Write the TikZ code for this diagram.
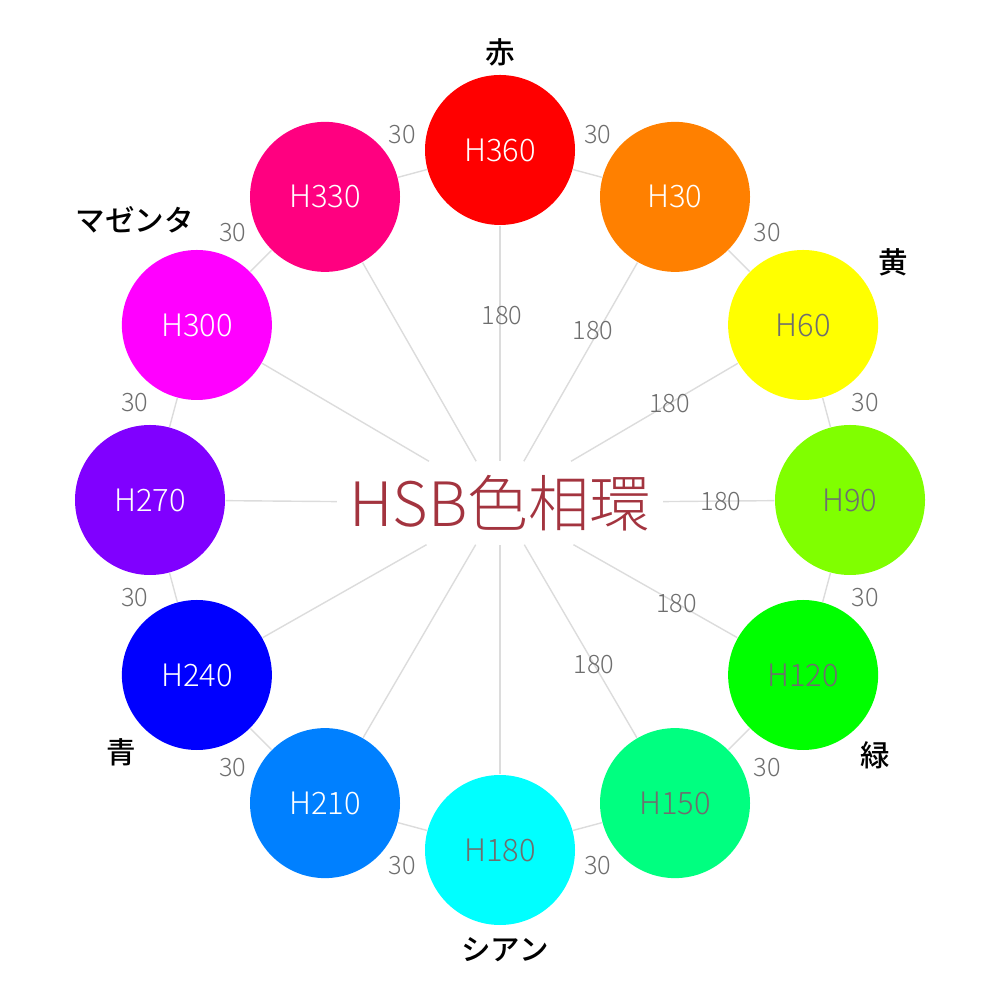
\documentclass[tikz,border=0pt]{standalone}
\usepackage{fontspec}
\IfFontExistsTF{Noto Sans CJK JP Light}
  {\newfontfamily\thinfont{Noto Sans CJK JP Light}}
  {\newfontfamily\thinfont{Noto Sans CJK JP}}
\IfFontExistsTF{Noto Sans CJK JP Medium}
  {\newfontfamily\namefont{Noto Sans CJK JP Medium}}
  {\newfontfamily\namefont{Noto Sans CJK JP Bold}}
\definecolor{hue360}{HTML}{FF0000}
\definecolor{hue30}{HTML}{FF8000}
\definecolor{hue60}{HTML}{FFFF00}
\definecolor{hue90}{HTML}{80FF00}
\definecolor{hue120}{HTML}{00FF00}
\definecolor{hue150}{HTML}{00FF80}
\definecolor{hue180}{HTML}{00FFFF}
\definecolor{hue210}{HTML}{0080FF}
\definecolor{hue240}{HTML}{0000FF}
\definecolor{hue270}{HTML}{8000FF}
\definecolor{hue300}{HTML}{FF00FF}
\definecolor{hue330}{HTML}{FF0080}
\definecolor{linegray}{HTML}{DCDCDC}
\definecolor{numgray}{HTML}{6E6E6E}
\definecolor{titlered}{HTML}{A3343F}
\begin{document}
\begin{tikzpicture}
\tikzset{huedot/.style={circle,minimum size=1.5cm,inner sep=0pt,font=\thinfont\fontsize{8.8}{10}\selectfont},
  chord/.style={draw=linegray,line width=0.4pt},
  spoke/.style={draw=linegray,line width=0.4pt},
  numlab/.style={text=numgray,inner sep=0pt,font=\thinfont\fontsize{7.2}{8}\selectfont},
  colname/.style={font=\namefont\fontsize{8.4}{10}\selectfont}};
\useasboundingbox (-5,-5) rectangle (5,5);

\node[minimum width=3.17cm,minimum height=0.82cm,text=titlered,
  font=\thinfont\fontsize{17.4}{20}\selectfont] (hsb) at (0,-0.03) {HSB色相環};

\foreach \h/\txt in {360/white,30/white,60/numgray,90/numgray,120/numgray,150/numgray,
  180/numgray,210/white,240/white,270/white,300/white,330/white}
  \node[huedot,fill=hue\h,text=\txt] (h\h) at ({90-\h}:3.5) {H\h};

% neighbours
\foreach \a/\b in {360/30,30/60,60/90,90/120,120/150,150/180,180/210,210/240,
  240/270,270/300,300/330,330/360}
  \draw[chord] (h\a) -- node[numlab,shift={({75-\a}:0.4)}] {30} (h\b);

% opposites
\foreach \h/\p/\dx in {360/0.38/0.02,30/0.34/-0.06,60/0.41/0,90/0.48/0,120/0.37/0,150/0.38/0}
  \draw[spoke] (h\h) -- node[numlab,pos=\p,xshift=\dx cm] {180} (hsb);
\foreach \h in {180,210,240,270,300,330}
  \draw[spoke] (h\h) -- (hsb);

\node[colname] (red) at (0,4.48) {赤};
\node[colname] (yellow) at (3.93,2.38) {黄};
\node[colname] (green) at (3.75,-2.55) {緑};
\node[colname] (cyan) at (0.05,-4.50) {シアン};
\node[colname] (blue) at (-3.79,-2.52) {青};
\node[colname] (magenta) at (-3.65,2.80) {マゼンタ};
\end{tikzpicture}
\end{document}
